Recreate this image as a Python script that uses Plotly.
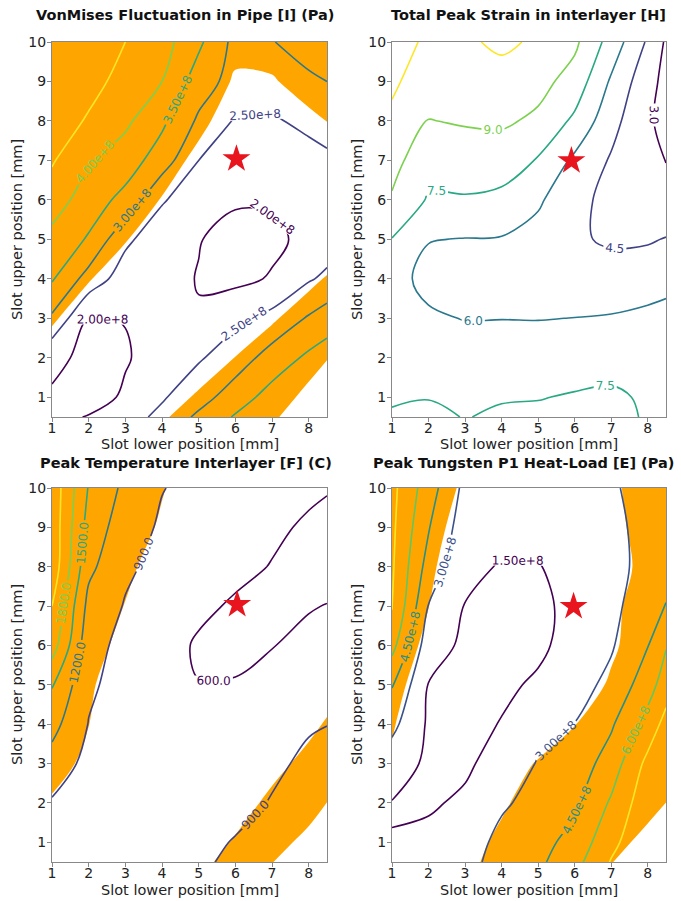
import numpy as np
import plotly.graph_objects as go

# ---------------- data ----------------
x_pos = [1, 2, 3, 4, 5, 6, 7, 8, 8.5]              # Slot lower position [mm]
y_pos = [10, 9, 8, 7, 6, 5, 4, 3, 2, 1, 0.5]       # Slot upper position [mm], rows listed top -> bottom

# VonMises fluctuation in pipe, units of 1e8 Pa
vonmises_e8 = [
    [5.20, 4.80, 4.50, 4.20, 3.60, 2.85, 2.98, 3.20, 3.30],
    [5.00, 4.65, 4.35, 4.00, 3.25, 2.80, 2.75, 2.92, 3.00],
    [4.75, 4.45, 4.10, 3.60, 2.92, 2.45, 2.45, 2.60, 2.68],
    [4.55, 4.05, 3.75, 3.25, 2.50, 2.30, 2.30, 2.35, 2.42],
    [4.25, 3.75, 3.35, 2.55, 2.20, 2.05, 2.05, 2.20, 2.25],
    [3.85, 3.45, 2.60, 2.20, 2.02, 1.85, 1.90, 2.12, 2.25],
    [3.55, 2.80, 2.25, 2.15, 1.98, 1.88, 2.04, 2.45, 2.60],
    [2.92, 1.98, 2.01, 2.15, 2.03, 2.40, 2.65, 3.05, 3.25],
    [2.10, 1.90, 1.97, 2.15, 2.45, 2.75, 3.20, 3.60, 3.75],
    [1.95, 1.85, 2.05, 2.45, 2.80, 3.25, 3.70, 3.90, 3.95],
    [1.90, 2.02, 2.30, 2.62, 3.10, 3.55, 3.85, 3.95, 3.98],
]
# constraint-violation region (orange where > 0)
vonmises_violation = [
    [2.0, 2.0, 2.0, 2.0, 2.0, 0.6, 0.7, 1.65, 2.0],
    [2.0, 2.0, 2.0, 2.0, 1.5, -0.25, -0.15, 0.65, 1.0],
    [2.0, 2.0, 2.0, 1.9, 0.5, -1.0, -1.0, -0.35, 0.02],
    [2.0, 2.0, 2.0, 0.9, -0.5, -2.0, -2.0, -1.35, -1.0],
    [2.0, 2.0, 1.1, -0.1, -1.5, -2.0, -2.0, -2.0, -1.9],
    [2.0, 1.1, 0.1, -1.1, -2.0, -2.0, -2.0, -1.32, -0.9],
    [1.2, 0.1, -0.9, -2.0, -2.0, -1.97, -1.16, -0.32, 0.1],
    [0.2, -0.9, -1.9, -2.0, -1.81, -0.97, -0.16, 0.68, 1.06],
    [-0.8, -1.9, -2.0, -1.67, -0.81, 0.03, 0.84, 0.61, 0.06],
    [-1.8, -2.0, -2.0, -0.67, 0.19, 1.03, 0.72, -0.39, -0.94],
    [-2.0, -2.0, -2.0, -0.17, 0.69, 1.33, 0.22, -0.89, -1.44],
]

# Total peak strain in interlayer
strain = [
    [11.0, 10.3, 10.3, 10.75, 10.3, 9.3, 6.9, 4.3, 2.8],
    [10.75, 9.7, 9.8, 10.0, 9.5, 8.4, 5.8, 3.5, 2.6],
    [10.2, 8.95, 9.15, 9.25, 8.7, 7.2, 5.0, 3.2, 2.6],
    [9.5, 8.0, 8.1, 8.1, 7.4, 5.7, 4.35, 3.4, 2.95],
    [8.85, 7.35, 7.4, 7.2, 6.2, 5.0, 4.0, 3.8, 3.7],
    [7.45, 6.05, 5.95, 5.9, 5.5, 4.7, 4.3, 4.4, 4.55],
    [6.5, 5.6, 5.4, 5.3, 5.2, 5.0, 5.2, 5.1, 5.6],
    [6.6, 6.2, 5.95, 5.97, 5.95, 6.02, 6.1, 6.45, 6.4],
    [6.8, 6.9, 6.7, 6.9, 6.9, 6.9, 6.9, 6.8, 6.8],
    [7.35, 7.45, 7.25, 7.4, 7.45, 7.6, 7.75, 7.3, 7.2],
    [7.65, 7.8, 7.45, 7.7, 7.75, 7.75, 7.8, 7.4, 7.3],
]

# Peak temperature interlayer [C]
temperature = [
    [2300, 1480, 1130, 910, 820, 760, 700, 640, 610],
    [2300, 1380, 1040, 860, 760, 700, 640, 570, 560],
    [2300, 1270, 950, 810, 720, 660, 590, 540, 530],
    [2100, 1110, 880, 760, 650, 570, 540, 590, 605],
    [1950, 1000, 820, 700, 570, 560, 595, 640, 650],
    [1520, 950, 780, 680, 605, 610, 650, 690, 700],
    [1300, 890, 770, 700, 660, 670, 710, 870, 895],
    [1080, 810, 760, 710, 700, 740, 840, 960, 1000],
    [870, 790, 750, 730, 750, 800, 920, 1000, 1050],
    [800, 770, 750, 760, 810, 920, 1000, 1050, 1060],
    [790, 770, 750, 780, 850, 960, 1020, 1060, 1070],
]
temperature_violation = [
    [2.0, 2.0, 1.1, 0.1, -0.9, -1.9, -2.0, -2.0, -2.0],
    [2.0, 1.8, 0.8, -0.2, -1.2, -2.0, -2.0, -2.0, -2.0],
    [2.0, 1.33, 0.33, -0.67, -1.67, -2.0, -2.0, -2.0, -2.0],
    [1.9, 0.9, -0.05, -1.1, -2.0, -2.0, -2.0, -2.0, -2.0],
    [1.5, 0.6, -0.45, -1.55, -2.0, -2.0, -2.0, -2.0, -2.0],
    [1.2, 0.2, -0.85, -1.9, -2.0, -2.0, -2.0, -1.45, -0.82],
    [1.0, 0.02, -1.0, -2.0, -2.0, -2.0, -1.57, -0.45, 0.18],
    [0.5, -0.3, -1.5, -2.0, -2.0, -1.81, -0.57, 0.55, 0.98],
    [-0.15, -1.15, -2.0, -2.0, -1.98, -0.81, 0.43, 0.59, -0.02],
    [-0.8, -1.8, -2.0, -2.0, -0.98, 0.19, 0.54, -0.41, -1.02],
    [-1.1, -2.0, -2.0, -2.0, -0.48, 0.69, 0.04, -0.91, -1.52],
]

# Peak tungsten P1 heat-load, units of 1e8 Pa
tungsten_e8 = [
    [7.9, 5.2, 2.6, 2.4, 2.5, 2.7, 2.8, 3.6, 3.8],
    [7.8, 4.6, 2.2, 1.9, 1.9, 2.2, 2.6, 3.5, 3.8],
    [7.7, 3.9, 1.85, 1.4, 1.45, 1.9, 2.6, 3.4, 4.0],
    [7.6, 2.95, 1.45, 1.2, 1.3, 1.75, 2.6, 3.9, 4.55],
    [6.5, 2.1, 1.25, 1.1, 1.3, 1.9, 2.85, 4.45, 5.9],
    [4.6, 1.45, 1.15, 1.3, 1.65, 2.4, 3.4, 5.3, 6.8],
    [3.4, 1.3, 1.15, 1.55, 2.5, 3.02, 4.3, 6.6, 8.0],
    [2.2, 1.25, 1.3, 2.0, 3.1, 3.6, 5.2, 7.9, 8.8],
    [1.45, 1.35, 1.7, 2.75, 3.6, 4.2, 6.2, 8.5, 9.2],
    [1.53, 1.8, 2.1, 3.5, 4.0, 5.0, 7.1, 8.8, 9.4],
    [2.0, 2.0, 2.3, 3.8, 4.2, 5.5, 7.6, 9.0, 9.5],
]
tungsten_violation = [
    [1.77, 0.77, -0.23, -1.23, -2.0, -1.29, -0.29, 0.71, 1.21],
    [1.47, 0.47, -0.53, -1.53, -2.0, -1.42, -0.42, 0.58, 1.08],
    [1.22, 0.22, -0.78, -1.78, -2.0, -1.58, -0.58, 0.42, 0.92],
    [1.0, 0.02, -1.0, -2.0, -2.0, -1.32, -0.32, 0.68, 1.18],
    [0.72, -0.28, -1.28, -2.0, -2.0, -1.22, -0.22, 0.78, 1.28],
    [0.38, -0.62, -1.62, -2.0, -1.82, -0.82, 0.18, 1.18, 1.68],
    [0.1, -0.9, -1.9, -2.0, -1.05, -0.05, 0.95, 1.95, 2.0],
    [-0.15, -1.15, -1.86, -0.86, 0.14, 1.14, 2.0, 1.52, 1.0],
    [-0.4, -1.4, -1.24, -0.24, 0.76, 1.76, 1.56, 0.52, -0.01],
    [-0.7, -1.64, -0.64, 0.36, 1.36, 2.0, 0.56, -0.48, -1.0],
    [-0.8, -1.42, -0.42, 0.58, 1.58, 2.0, 0.06, -0.98, -1.5],
]

titles = [
    "VonMises Fluctuation in Pipe [I] (Pa)",
    "Total Peak Strain in interlayer [H]",
    "Peak Temperature Interlayer [F] (C)",
    "Peak Tungsten P1 Heat-Load [E] (Pa)",
]
x_title = "Slot lower position [mm]"
y_title = "Slot upper position [mm]"
star_x = [6.03, 5.91, 6.05, 5.97]
star_y = [7.04, 6.99, 7.04, 6.99]

# contour level settings: (start, end, step, colour-min, colour-max, label format)
levels = [
    (2.0e8, 4.5e8, 0.5e8, 2.0e8, 5.0e8, ".2e"),
    (3.0, 10.5, 1.5, 3.0, 12.0, ".1f"),
    (600, 2100, 300, 600, 2400, ".1f"),
    (1.5e8, 7.5e8, 1.5e8, 1.5e8, 9.0e8, ".2e"),
]

# ---------------- figure ----------------
FONT = "DejaVu Sans"
ORANGE = "#FFA500"
y_asc = y_pos[::-1]

fields = [
    np.array(vonmises_e8[::-1]) * 1e8,
    np.array(strain[::-1]),
    np.array(temperature[::-1]),
    np.array(tungsten_e8[::-1]) * 1e8,
]
masks = [
    np.array(vonmises_violation[::-1]),
    None,
    np.array(temperature_violation[::-1]),
    np.array(tungsten_violation[::-1]),
]

fig = go.Figure()
for i in range(4):
    xa = "x" if i == 0 else f"x{i+1}"
    ya = "y" if i == 0 else f"y{i+1}"
    if masks[i] is not None:
        fig.add_trace(go.Contour(
            x=x_pos, y=y_asc, z=masks[i], xaxis=xa, yaxis=ya,
            contours=dict(type="constraint", operation="<", value=0),
            fillcolor=ORANGE, line=dict(width=0, smoothing=1.0),
            showscale=False, hoverinfo="skip", showlegend=False,
        ))
    s, e, st, cmin, cmax, fmt = levels[i]
    fig.add_trace(go.Contour(
        x=x_pos, y=y_asc, z=fields[i], xaxis=xa, yaxis=ya,
        contours=dict(start=s, end=e, size=st, coloring="lines",
                      showlabels=True, labelformat=fmt,
                      labelfont=dict(family=FONT, size=12)),
        colorscale="Viridis", zmin=cmin, zmax=cmax,
        line=dict(width=1.6, smoothing=1.0),
        showscale=False, showlegend=False,
    ))
    fig.add_trace(go.Scatter(
        x=[star_x[i]], y=[star_y[i]], xaxis=xa, yaxis=ya, mode="markers",
        marker=dict(symbol="star", size=21, color="#E8141E", line=dict(width=0)),
        showlegend=False, hoverinfo="skip",
    ))

W, H = 681, 901
xdom = [(52 / W, 327 / W), (392 / W, 666 / W)]
ydom = [(1 - 417 / H, 1 - 42 / H), (1 - 862 / H, 1 - 488 / H)]

axis_style = dict(showline=True, mirror=True, linecolor="#888888", linewidth=1,
                  ticks="outside", ticklen=4, tickcolor="#888888",
                  tickfont=dict(family=FONT, size=14, color="#222222"),
                  showgrid=False, zeroline=False, automargin=False)

layout = dict(width=W, height=H, margin=dict(l=0, r=0, t=0, b=0),
              paper_bgcolor="white", plot_bgcolor="white",
              font=dict(family=FONT, color="#222222"), showlegend=False)
for i in range(4):
    xs = "xaxis" if i == 0 else f"xaxis{i+1}"
    ys = "yaxis" if i == 0 else f"yaxis{i+1}"
    col, row = i % 2, i // 2
    layout[xs] = dict(axis_style, domain=xdom[col], range=[1, 8.5],
                      tickvals=[1, 2, 3, 4, 5, 6, 7, 8], ticklabelstandoff=-6,
                      anchor="y" if i == 0 else f"y{i+1}")
    layout[ys] = dict(axis_style, domain=ydom[row], range=[0.5, 10],
                      tickvals=list(range(1, 11)), ticklabelstandoff=-2,
                      anchor="x" if i == 0 else f"x{i+1}")

fig.update_layout(**layout)

title_x = [185 / W, 528 / W, 186 / W, 523 / W]
title_y = [1 - 15 / H, 1 - 15 / H, 1 - 463 / H, 1 - 463 / H]
xlab_x = [190 / W, 529 / W]
xlab_y = [1 - 444 / H, 1 - 890 / H]
ylab_x = [17 / W, 357 / W]
ylab_y = [1 - 230 / H, 1 - 675 / H]
for i in range(4):
    col, row = i % 2, i // 2
    fig.add_annotation(text=f"<b>{titles[i]}</b>", x=title_x[i], y=title_y[i],
                       xref="paper", yref="paper", showarrow=False,
                       xanchor="center", yanchor="middle",
                       font=dict(family=FONT, size=14.5, color="#111111"))
    fig.add_annotation(text=x_title, x=xlab_x[col], y=xlab_y[row],
                       xref="paper", yref="paper", showarrow=False,
                       xanchor="center", yanchor="middle",
                       font=dict(family=FONT, size=14.5, color="#222222"))
    fig.add_annotation(text=y_title, x=ylab_x[col], y=ylab_y[row], textangle=-90,
                       xref="paper", yref="paper", showarrow=False,
                       xanchor="center", yanchor="middle",
                       font=dict(family=FONT, size=14.5, color="#222222"))

fig.write_html("out.html", config={"displayModeBar": False},
               post_script="document.body.style.margin='0';document.body.style.overflow='hidden';")
